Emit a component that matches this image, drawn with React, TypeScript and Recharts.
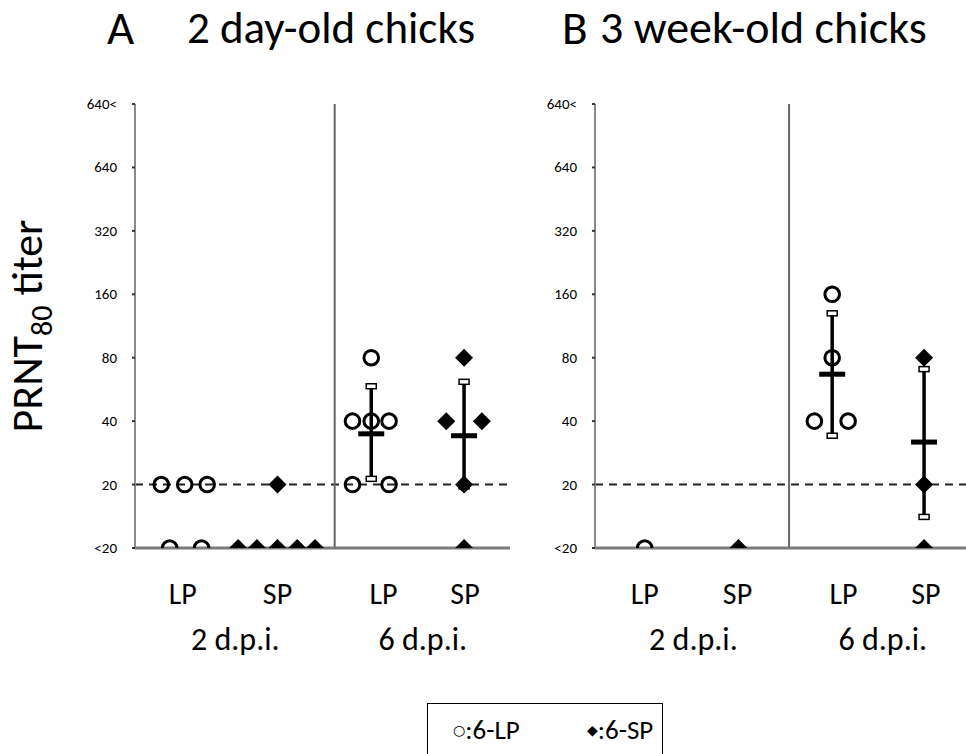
import {
  ComposedChart,
  Scatter,
  ErrorBar,
  XAxis,
  YAxis,
  ReferenceLine,
} from 'recharts'

// titer levels, bottom to top (index = position on the y axis)
const yLevels = ['<20', '20', '40', '80', '160', '320', '640', '640<']
const yTicks = [0, 1, 2, 3, 4, 5, 6, 7]

const xTickLabels = ['LP', 'SP', 'LP', 'SP']
const groupLabels = ['2 d.p.i.', '6 d.p.i.']

// panel A: 2 day-old chicks
const aLP2 = [
  { x: 0.78, t: '20' }, { x: 1.03, t: '20' }, { x: 1.27, t: '20' },
  { x: 0.87, t: '<20' }, { x: 1.21, t: '<20' },
]
const aSP2 = [
  { x: 2.02, t: '20' },
  { x: 1.6, t: '<20' }, { x: 1.8, t: '<20' }, { x: 2.02, t: '<20' }, { x: 2.23, t: '<20' }, { x: 2.42, t: '<20' },
]
const aLP6 = [
  { x: 3.02, t: '80' },
  { x: 2.82, t: '40' }, { x: 3.02, t: '40' }, { x: 3.21, t: '40' },
  { x: 2.82, t: '20' }, { x: 3.21, t: '20' },
]
const aSP6 = [
  { x: 4.01, t: '80' },
  { x: 3.82, t: '40' }, { x: 4.2, t: '40' },
  { x: 4.01, t: '20' }, { x: 4.01, t: '<20' },
]
// mean and error range, in y-axis level units
const aStats = [
  { x: 3.02, mean: 1.8, lo: 1.09, hi: 2.55 },
  { x: 4.01, mean: 1.77, lo: 0.97, hi: 2.62 },
]
const aDivider = 2.63
const aTickPos = [1.01, 2.02, 3.15, 4.02]
const aGroupPos = [1.57, 3.57]

// panel B: 3 week-old chicks
const bLP2 = [{ x: 1.03, t: '<20' }]
const bSP2 = [{ x: 2.03, t: '<20' }]
const bLP6 = [
  { x: 3.03, t: '160' }, { x: 3.03, t: '80' },
  { x: 2.84, t: '40' }, { x: 3.2, t: '40' },
]
const bSP6 = [
  { x: 4.01, t: '80' }, { x: 4.01, t: '20' }, { x: 4.01, t: '<20' },
]
const bStats = [
  { x: 3.03, mean: 2.74, lo: 1.77, hi: 3.7 },
  { x: 4.01, mean: 1.67, lo: 0.49, hi: 2.82 },
]
const bDivider = 2.57
const bTickPos = [1.03, 2.02, 3.15, 4.03]
const bGroupPos = [1.55, 3.57]

const legendItems = [
  { sym: '○', label: ':6-LP' },
  { sym: '◆', label: ':6-SP' },
]

const toPts = (arr: { x: number; t: string }[]) =>
  arr.map((d) => ({ x: d.x, y: yLevels.indexOf(d.t) }))

const CircleDot = (p: any) => (
  <circle cx={p.cx} cy={p.cy} r={7.3} fill="none" stroke="#000" strokeWidth={3} />
)
const DiamondDot = (p: any) => (
  <polygon
    points={`${p.cx},${p.cy - 9} ${p.cx + 9},${p.cy} ${p.cx},${p.cy + 9} ${p.cx - 9},${p.cy}`}
    fill="#000"
  />
)
const MeanBar = (p: any) => <rect x={p.cx - 13} y={p.cy - 2.5} width={26} height={5} fill="#000" />
const Cap = (p: any) => (
  <rect x={p.cx - 5} y={p.cy - 2.5} width={10} height={5} fill="#fff" stroke="#000" strokeWidth={1.5} />
)
const NoDot = () => <g />

const YTick = (t: any) => (
  <text x={t.x} y={t.y + 5} textAnchor="end" fontSize={15} fill="#000">
    {yLevels[t.payload.value]}
  </text>
)

const YTitle = (props: any) => {
  const vb = props.viewBox || { x: 0, y: 0, width: 0, height: 0 }
  const x = vb.x + 42
  const y = vb.y + vb.height / 2
  return (
    <text x={x} y={y} transform={`rotate(-90 ${x} ${y})`} textAnchor="middle" fontSize={44} fill="#000">
      PRNT
      <tspan fontSize={30} dy={10}>80</tspan>
      <tspan dy={-10}> titer</tspan>
    </text>
  )
}

type PanelProps = {
  left: number
  width: number
  right: number
  lp2: { x: number; t: string }[]
  sp2: { x: number; t: string }[]
  lp6: { x: number; t: string }[]
  sp6: { x: number; t: string }[]
  stats: { x: number; mean: number; lo: number; hi: number }[]
  divider: number
  tickPos: number[]
  groupPos: number[]
  yTitle?: boolean
}

function Panel(p: PanelProps) {
  const means = p.stats.map((s) => ({ x: s.x, y: s.mean, err: [s.mean - s.lo, s.hi - s.mean] }))
  const caps = p.stats.flatMap((s) => [{ x: s.x, y: s.lo }, { x: s.x, y: s.hi }])
  const TickLabel = (t: any) => (
    <text x={t.x} y={t.y + 56} textAnchor="middle" fontSize={30} fill="#000">
      {xTickLabels[t.index]}
    </text>
  )
  const GroupLabel = (t: any) => (
    <text x={t.x} y={t.y + 42} textAnchor="middle" fontSize={32} fill="#000">
      {groupLabels[t.index]}
    </text>
  )
  return (
    <div style={{ position: 'absolute', left: p.left, top: 0 }}>
      <ComposedChart
        width={p.width}
        height={754}
        margin={{ top: 104, right: p.right, bottom: 100, left: 0 }}
      >
        <XAxis
          type="number"
          dataKey="x"
          domain={[0.5, 4.5]}
          allowDataOverflow
          ticks={p.tickPos}
          interval={0}
          height={60}
          tickLine={false}
          tickSize={0}
          tickMargin={0}
          axisLine={{ stroke: '#7a7a7a', strokeWidth: 3 }}
          tick={<TickLabel />}
        />
        <XAxis
          xAxisId="grp"
          type="number"
          dataKey="x"
          domain={[0.5, 4.5]}
          allowDataOverflow
          ticks={p.groupPos}
          interval={0}
          height={46}
          axisLine={false}
          tickLine={false}
          tickSize={0}
          tickMargin={0}
          tick={<GroupLabel />}
        />
        <YAxis
          type="number"
          dataKey="y"
          domain={[0, 7]}
          allowDataOverflow
          ticks={yTicks}
          interval={0}
          width={135}
          tick={<YTick />}
          tickSize={3}
          tickMargin={15}
          tickLine={{ stroke: '#333', strokeWidth: 2 }}
          axisLine={{ stroke: '#8a8a8a', strokeWidth: 2 }}
          label={p.yTitle ? <YTitle /> : undefined}
        />
        <ReferenceLine y={1} stroke="#222" strokeWidth={2} strokeDasharray="8 6" />
        <ReferenceLine x={p.divider} stroke="#666" strokeWidth={2} />
        {/* invisible series so the group-label axis gets drawn */}
        <Scatter
          xAxisId="grp"
          data={p.groupPos.map((x) => ({ x, y: 0 }))}
          shape={NoDot}
          isAnimationActive={false}
        />
        <Scatter data={means} shape={MeanBar} isAnimationActive={false}>
          <ErrorBar dataKey="err" direction="y" width={0} stroke="#000" strokeWidth={3.5} isAnimationActive={false} />
        </Scatter>
        <Scatter data={caps} shape={Cap} isAnimationActive={false} />
        <Scatter data={toPts(p.lp2)} shape={CircleDot} isAnimationActive={false} />
        <Scatter data={toPts(p.sp2)} shape={DiamondDot} isAnimationActive={false} />
        <Scatter data={toPts(p.lp6)} shape={CircleDot} isAnimationActive={false} />
        <Scatter data={toPts(p.sp6)} shape={DiamondDot} isAnimationActive={false} />
      </ComposedChart>
    </div>
  )
}

export default function App() {
  return (
    <div
      style={{
        position: 'fixed',
        left: 0,
        top: 0,
        width: 966,
        height: 754,
        overflow: 'hidden',
        background: '#fff',
        fontFamily: 'Carlito, Lato, sans-serif',
      }}
    >
      <svg width={966} height={70} style={{ position: 'absolute', left: 0, top: 0 }}>
        <text x={107} y={44} fontSize={47} fill="#000">A</text>
        <text x={187} y={43} fontSize={45} fill="#000">2 day-old chicks</text>
        <text x={562} y={44} fontSize={47} fill="#000">B</text>
        <text x={600} y={43} fontSize={46} fill="#000">3 week-old chicks</text>
      </svg>

      <Panel
        left={0}
        width={560}
        right={50}
        lp2={aLP2}
        sp2={aSP2}
        lp6={aLP6}
        sp6={aSP6}
        stats={aStats}
        divider={aDivider}
        tickPos={aTickPos}
        groupPos={aGroupPos}
        yTitle
      />
      <Panel
        left={460}
        width={510}
        right={0}
        lp2={bLP2}
        sp2={bSP2}
        lp6={bLP6}
        sp6={bSP6}
        stats={bStats}
        divider={bDivider}
        tickPos={bTickPos}
        groupPos={bGroupPos}
      />

      {/* legend box, runs off the bottom edge */}
      <div
        style={{
          position: 'absolute',
          left: 427,
          top: 703,
          width: 236,
          height: 80,
          border: '1.5px solid #000',
          boxSizing: 'border-box',
        }}
      >
        {legendItems.map((it, i) => (
          <span
            key={it.label}
            style={{
              position: 'absolute',
              left: i === 0 ? 25 : 159,
              top: 11,
              fontSize: 27,
              lineHeight: '30px',
              whiteSpace: 'nowrap',
            }}
          >
            <span style={{ fontSize: 14, fontFamily: 'DejaVu Sans', verticalAlign: 4 }}>{it.sym}</span>
            {it.label}
          </span>
        ))}
      </div>
    </div>
  )
}
